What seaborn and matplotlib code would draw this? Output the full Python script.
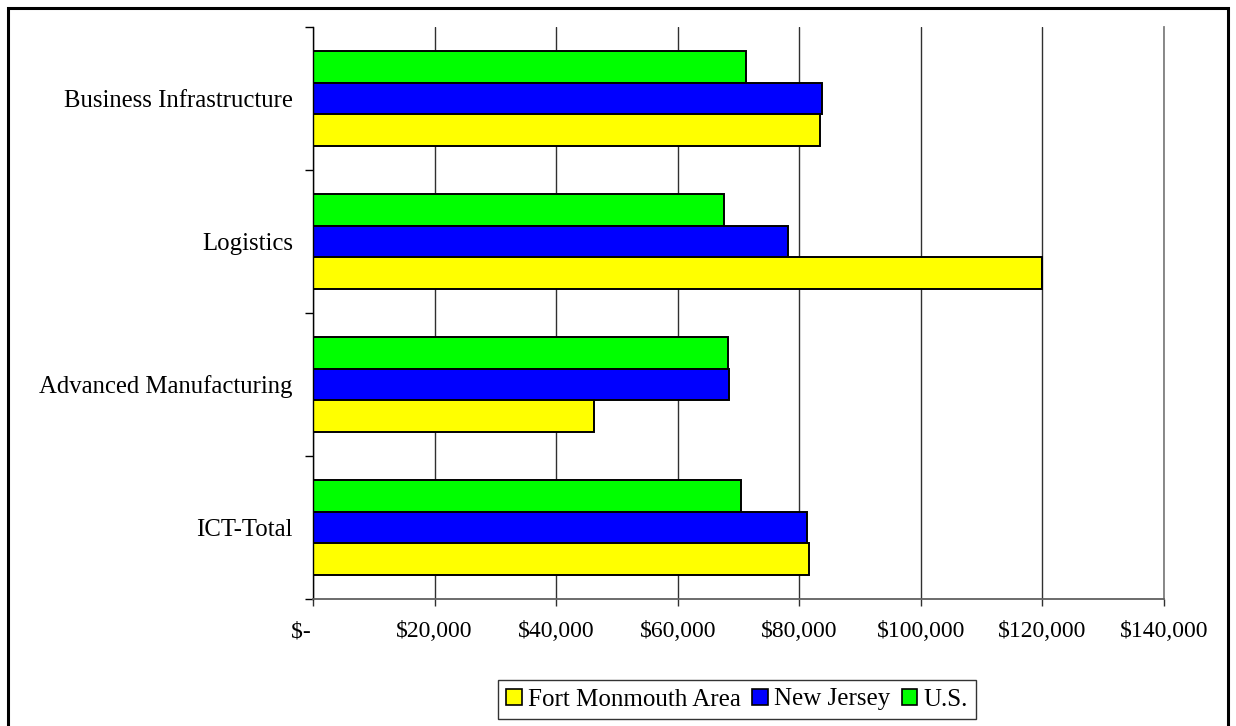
import matplotlib
matplotlib.use('Agg')
import matplotlib.pyplot as plt
import matplotlib.patches as mpatches
import seaborn as sns
import pandas as pd

# ── Data ──────────────────────────────────────────────────────────────────
categories = ['Business Infrastructure', 'Logistics', 'Advanced Manufacturing', 'ICT-Total']
fort_monmouth = [83400, 120000, 46200, 81600]
new_jersey = [83800, 78200, 68500, 81300]
us = [71300, 67600, 68200, 70400]

series_names = ['Fort Monmouth Area', 'New Jersey', 'U.S.']
series_colors = ['#FFFF00', '#0000FF', '#00FF00']
x_ticks = [0, 20000, 40000, 60000, 80000, 100000, 120000, 140000]
x_labels = ['$-    ', '$20,000', '$40,000', '$60,000', '$80,000',
            '$100,000', '$120,000', '$140,000']

rows = []
for name, vals in zip(series_names, [fort_monmouth, new_jersey, us]):
    for cat, v in zip(categories, vals):
        rows.append({'Category': cat, 'Region': name, 'Wage': v})
df = pd.DataFrame(rows)

sns.set_theme(style='white')
plt.rcParams['font.family'] = ['Liberation Serif', 'DejaVu Serif']
plt.rcParams['text.color'] = 'black'
plt.rcParams['xtick.color'] = 'black'
plt.rcParams['ytick.color'] = 'black'

W, H = 1236, 726
fig = plt.figure(figsize=(W / 100, H / 100), dpi=100)
ax = fig.add_axes([313 / W, 1 - 599 / H, (1164 - 313) / W, (599 - 27) / H])

palette = dict(zip(series_names, series_colors))
# U.S. on top of each group, Fort Monmouth at the bottom
sns.barplot(data=df, y='Category', x='Wage', hue='Region',
            order=categories, hue_order=['U.S.', 'New Jersey', 'Fort Monmouth Area'],
            palette=palette, orient='h', width=0.67, gap=0,
            edgecolor='black', linewidth=1.4, saturation=1, legend=False, ax=ax)

ax.set_xlim(0, 140000)
ax.set_ylim(len(categories) - 0.5, -0.5)
ax.set_xlabel('')
ax.set_ylabel('')

ax.set_xticks(x_ticks)
ax.set_xticklabels(x_labels, fontsize=17, color='black')
ax.set_yticks(range(len(categories)))
ax.set_yticklabels(categories, fontsize=17.8, color='black')
ax.set_yticks([i - 0.5 for i in range(len(categories) + 1)], minor=True)

ax.tick_params(axis='y', which='major', length=0, pad=14.5)
ax.tick_params(axis='y', which='minor', left=True, length=6, width=1, color='black')
ax.tick_params(axis='x', which='major', bottom=True, length=5, width=1,
               color='#303030', pad=11)

ax.set_axisbelow(True)
ax.grid(axis='x', color='#303030', linewidth=1.0)
ax.grid(axis='y', visible=False)

ax.spines['top'].set_visible(False)
ax.spines['right'].set_color('#808080')
ax.spines['right'].set_linewidth(1.3)
ax.spines['left'].set_color('black')
ax.spines['left'].set_linewidth(1.0)
ax.spines['bottom'].set_color('#606060')
ax.spines['bottom'].set_linewidth(1.3)

# ── Legend ─────────────────────────────────────────────────────────────────
handles = [mpatches.Patch(facecolor=c, edgecolor='black', linewidth=1.2, label=n)
           for n, c in zip(series_names, series_colors)]
leg = fig.legend(handles=handles, loc='center', ncol=3,
                 bbox_to_anchor=(737 / W, 1 - 699.5 / H),
                 fontsize=18, frameon=True, fancybox=False,
                 handlelength=0.62, handleheight=0.62, handletextpad=0.25,
                 columnspacing=0.45, borderpad=0.35, borderaxespad=0)
leg.get_frame().set_edgecolor('black')
leg.get_frame().set_linewidth(1.0)

# ── Outer frame ──────────────────────────────────────────────────────────
fig.patches.append(mpatches.Rectangle((8 / W, -0.02), (1228 - 8) / W, 1.02 - 8 / H,
                                      transform=fig.transFigure, fill=False,
                                      edgecolor='black', linewidth=2.2))

fig.savefig('out.png', dpi=100)
